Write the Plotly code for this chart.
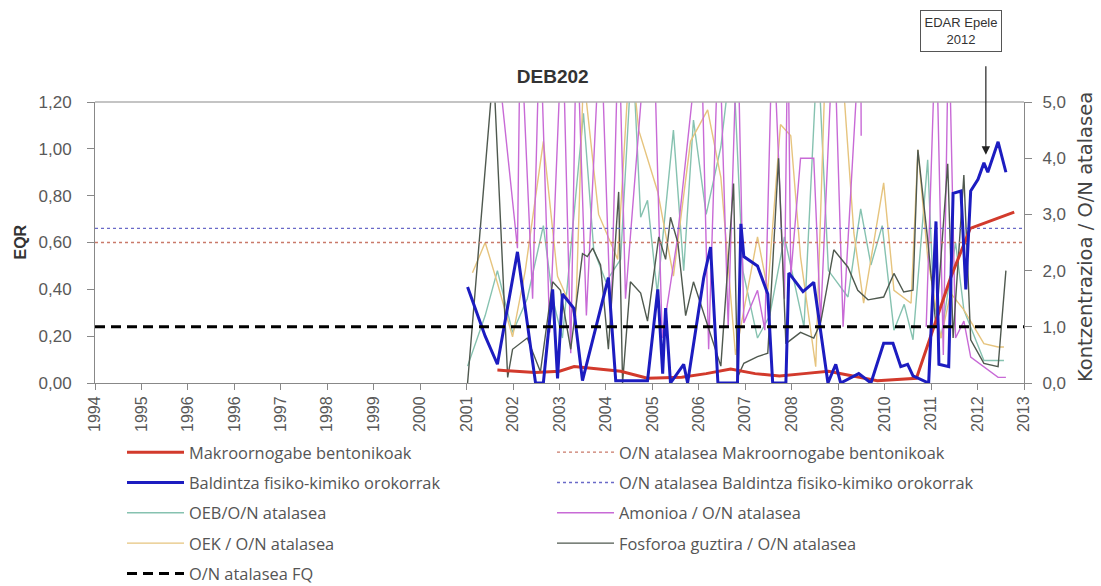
import numpy as np
import plotly.graph_objects as go

# ---- axis labels -------------------------------------------------------
x_tick_labels = ["1994", "1995", "1996", "1996", "1997", "1998", "1999", "2000",
                 "2001", "2002", "2003", "2004", "2005", "2006", "2007", "2008",
                 "2009", "2010", "2011", "2012", "2013"]

# ---- EQR series (left axis) --------------------------------------------
makro_years = [2002.23, 2003.0, 2003.5, 2003.8, 2004.3, 2004.75, 2005.3, 2006.0,
               2006.5, 2007.0, 2007.5, 2008.0, 2008.5, 2009.0, 2009.5, 2010.0,
               2010.8, 2011.5, 2011.9, 2012.8]
makro_eqr = [0.055, 0.045, 0.05, 0.07, 0.06, 0.05, 0.02, 0.025,
             0.04, 0.06, 0.04, 0.03, 0.04, 0.05, 0.03, 0.01,
             0.02, 0.45, 0.66, 0.73]

fq_years = [2001.62, 2001.98, 2002.23, 2002.64, 2003.01, 2003.17, 2003.36, 2003.46,
            2003.56, 2003.79, 2003.97, 2004.34, 2004.50, 2004.65, 2005.30, 2005.51,
            2005.61, 2005.67, 2005.77, 2006.04, 2006.12, 2006.45, 2006.59, 2006.74,
            2007.14, 2007.21, 2007.27, 2007.55, 2007.76, 2007.86, 2008.13, 2008.19,
            2008.48, 2008.70, 2008.99, 2009.15, 2009.25, 2009.62, 2009.87, 2010.13,
            2010.32, 2010.48, 2010.62, 2010.73, 2011.05, 2011.20, 2011.26, 2011.46,
            2011.55, 2011.71, 2011.81, 2011.91, 2012.06, 2012.18, 2012.26, 2012.47,
            2012.63]
fq_eqr = [0.41, 0.20, 0.08, 0.56, 0.00, 0.00, 0.40, 0.02,
          0.38, 0.32, 0.01, 0.32, 0.45, 0.01, 0.01, 0.40,
          0.04, 0.32, 0.00, 0.08, 0.00, 0.45, 0.58, 0.00,
          0.00, 0.68, 0.54, 0.50, 0.38, 0.00, 0.00, 0.47,
          0.39, 0.43, 0.00, 0.08, 0.00, 0.04, 0.00, 0.17,
          0.17, 0.07, 0.08, 0.03, 0.00, 0.69, 0.08, 0.07,
          0.81, 0.82, 0.40, 0.82, 0.87, 0.94, 0.90, 1.03,
          0.90]

# O/N thresholds (EQR)
threshold_years = [1994, 2013]
on_makro = 0.60
on_baldintza = 0.66
on_fq = 0.24

# ---- concentration / threshold ratios (right axis) ---------------------
oeb_years = [2001.62, 2001.98, 2002.23, 2002.54, 2002.84, 2003.17, 2003.36, 2003.56,
             2003.99, 2004.20, 2004.45, 2004.75, 2004.99, 2005.16, 2005.30, 2005.50,
             2005.83, 2006.04, 2006.24, 2006.50, 2006.80, 2007.04, 2007.25, 2007.55,
             2007.80, 2008.10, 2008.50, 2008.78, 2009.00, 2009.40, 2009.66, 2009.87,
             2010.10, 2010.34, 2010.55, 2010.73, 2011.03, 2011.15, 2011.30, 2011.60,
             2011.77, 2012.18, 2012.59]
oeb_ratio = [0.3, 1.2, 2.0, 0.9, 1.5, 2.8, 1.5, 0.8,
             4.8, 2.37, 1.8, 2.2, 6.0, 2.95, 3.25, 1.6,
             4.5, 2.0, 4.68, 3.0, 4.2, 6.0, 2.0, 0.8,
             1.2, 2.6, 1.0, 6.0, 2.0, 1.53, 3.1, 2.1,
             2.8, 0.94, 1.4, 0.77, 3.97, 1.5, 0.8, 2.5,
             1.3, 0.4, 0.4]

oek_years = [2001.72, 2001.98, 2002.23, 2002.54, 2002.80, 2003.17, 2003.46, 2003.83,
             2003.99, 2004.30, 2004.69, 2004.95, 2005.12, 2005.51, 2005.83, 2006.18,
             2006.53, 2006.80, 2007.10, 2007.55, 2007.76, 2008.02, 2008.23, 2008.43,
             2008.74, 2008.95, 2009.25, 2009.52, 2009.72, 2010.13, 2010.34, 2010.69,
             2010.83, 2011.03, 2011.30, 2011.50, 2011.77, 2012.18, 2012.47, 2012.59]
oek_ratio = [1.96, 2.5, 1.78, 0.82, 2.0, 4.3, 1.9, 1.17,
             5.5, 3.0, 2.2, 6.0, 4.5, 3.4, 1.9, 4.3,
             4.86, 3.66, 0.5, 2.6, 1.65, 4.6, 4.4, 2.24,
             0.29, 6.0, 6.0, 2.67, 1.42, 3.56, 1.65, 1.42,
             4.15, 2.24, 0.8, 1.6, 1.3, 0.7, 0.64, 0.64]

amonio_years = [2002.15, 2002.64, 2002.70, 2002.95, 2003.10, 2003.30, 2003.56, 2003.73,
                2003.85, 2004.05, 2004.34, 2004.55, 2004.71, 2004.85, 2005.30, 2005.42,
                2005.60, 2005.90, 2006.39, 2006.55, 2006.76, 2006.95, 2007.14, 2007.27,
                2007.55, 2007.70, 2007.86, 2008.10, 2008.17, 2008.23, 2008.43, 2008.70,
                2008.84, 2009.11, 2009.30, 2009.66, 2009.67, 2010.40,
                2011.00, 2011.20, 2011.35, 2011.46, 2011.60, 2011.77, 2011.91, 2012.18,
                2012.47, 2012.63]
amonio_ratio = [6.5, 2.4, 6.5, 1.5, 6.5, 0.9, 6.5, 0.53,
                6.5, 1.2, 6.5, 1.0, 6.5, 1.5, 6.5, 6.5,
                0.8, 2.5, 6.5, 0.6, 6.5, 1.0, 6.5, 1.07,
                1.65, 0.94, 6.5, 1.5, 6.5, 1.9, 4.0, 4.0,
                1.1, 6.5, 1.0, 6.5, 4.4, None,
                1.0, 6.5, 0.5, 6.5, 0.8, 1.1, 0.46, 0.28,
                0.1, 0.1]

fosforo_years = [2001.62, 2002.15, 2002.44, 2002.54, 2002.84, 2003.11, 2003.36, 2003.52,
                 2003.73, 2003.97, 2004.07, 2004.18, 2004.34, 2004.50, 2004.71, 2004.79,
                 2004.95, 2005.16, 2005.30, 2005.53, 2005.67, 2005.77, 2005.92, 2006.08,
                 2006.24, 2006.39, 2006.53, 2006.80, 2007.06, 2007.14, 2007.27, 2007.55,
                 2007.76, 2007.98, 2008.13, 2008.43, 2008.70, 2008.84, 2009.11, 2009.40,
                 2009.60, 2009.81, 2010.13, 2010.34, 2010.54, 2010.73, 2010.83, 2011.03,
                 2011.20, 2011.44, 2011.55, 2011.77, 2011.91, 2012.18, 2012.47, 2012.63]
fosforo_ratio = [0.0, 5.6, 0.1, 0.6, 0.8, 0.2, 1.8, 1.65,
                 0.6, 2.3, 2.25, 2.4, 2.1, 0.6, 3.4, 0.0,
                 1.8, 1.6, 1.1, 2.6, 2.2, 2.95, 2.5, 1.2,
                 1.8, 1.4, 1.06, 0.3, 3.55, 0.1, 0.35, 0.47,
                 0.53, 4.0, 0.7, 0.9, 0.8, 1.07, 2.37, 2.06,
                 1.65, 1.48, 1.53, 1.95, 1.62, 1.65, 4.15, 2.55,
                 1.0, 3.9, 0.8, 3.7, 0.77, 0.35, 0.29, 2.0]

SANS = "Liberation Sans, Arial, sans-serif"
LEGEND_FONT = dict(family="Open Sans, Lato, sans-serif", size=16.4, color="#555555")
AXIS_FONT = dict(family=SANS, size=17, color="#595959")

fig = go.Figure()

# thin ratio lines on the right-hand axis (y)
thin = [
    ("OEB/O/N atalasea", oeb_years, oeb_ratio, "#86c2b0", "legend", 3),
    ("OEK / O/N atalasea", oek_years, oek_ratio, "#e6c47e", "legend", 4),
    ("Amonioa / O/N atalasea", amonio_years, amonio_ratio, "#c86ad6", "legend2", 3),
    ("Fosforoa guztira / O/N atalasea", fosforo_years, fosforo_ratio, "#4f594f", "legend2", 4),
]
for name, xs, ys, col, leg, rank in thin:
    fig.add_trace(go.Scatter(x=xs, y=ys, name=name, mode="lines", yaxis="y",
                             line=dict(color=col, width=1.4), legend=leg,
                             legendrank=rank, legendgroup=name, connectgaps=False))

# threshold lines and EQR series on the left-hand axis (y2)
fig.add_trace(go.Scatter(x=threshold_years, y=[on_makro] * 2, yaxis="y2", mode="lines",
                         name="O/N atalasea Makroornogabe bentonikoak",
                         line=dict(color="#c97a6a", width=1.3, dash="dot"),
                         legend="legend2", legendrank=1, legendgroup="onm"))
fig.add_trace(go.Scatter(x=threshold_years, y=[on_baldintza] * 2, yaxis="y2", mode="lines",
                         name="O/N atalasea Baldintza fisiko-kimiko orokorrak",
                         line=dict(color="#6a6ac8", width=1.3, dash="dot"),
                         legend="legend2", legendrank=2, legendgroup="onb"))
fig.add_trace(go.Scatter(x=makro_years, y=makro_eqr, yaxis="y2", mode="lines",
                         name="Makroornogabe bentonikoak",
                         line=dict(color="#d23a2c", width=3),
                         legend="legend", legendrank=1, legendgroup="mk"))
fig.add_trace(go.Scatter(x=fq_years, y=fq_eqr, yaxis="y2", mode="lines",
                         name="Baldintza fisiko-kimiko orokorrak",
                         line=dict(color="#1c1cc0", width=3),
                         legend="legend", legendrank=2, legendgroup="bf"))
fig.add_trace(go.Scatter(x=threshold_years, y=[on_fq] * 2, yaxis="y2", mode="lines",
                         name="O/N atalasea FQ",
                         line=dict(color="#000000", width=3, dash="10px,6px"),
                         legend="legend", legendrank=5, legendgroup="fq"))

tick_positions = np.linspace(1994, 2013, len(x_tick_labels))

legend_style = dict(xref="container", yref="container", y=1 - 435 / 586,
                    xanchor="left", yanchor="top", orientation="v",
                    font=LEGEND_FONT, itemwidth=57, tracegroupgap=6,
                    bgcolor="rgba(0,0,0,0)", traceorder="grouped")

fig.update_layout(
    width=1101, height=586,
    margin=dict(l=95, r=77, t=102, b=203, autoexpand=False),
    paper_bgcolor="white", plot_bgcolor="white",
    separators=",.",
    showlegend=True,
    title=dict(text="<b>DEB202</b>", x=0.502, xanchor="center", y=1 - 76 / 586,
               yanchor="middle", font=dict(family=SANS, size=19, color="#333333")),
    xaxis=dict(range=[1994, 2013], tickmode="array", tickvals=tick_positions,
               ticktext=x_tick_labels, tickangle=-90, ticks="outside", ticklen=6,
               tickcolor="#888888", showline=True, linecolor="#888888", linewidth=1,
               showgrid=False, zeroline=False, tickfont=dict(AXIS_FONT, size=16)),
    yaxis=dict(range=[0, 5], side="right", tickvals=[0, 1, 2, 3, 4, 5], tickformat=".1f",
               ticks="outside", ticklen=7, tickcolor="#888888", showline=True,
               linecolor="#888888", showgrid=False, zeroline=False, tickfont=AXIS_FONT,
               ticklabelstandoff=7),
    yaxis2=dict(range=[0, 1.2], side="left", overlaying="y",
                tickvals=[0, 0.2, 0.4, 0.6, 0.8, 1.0, 1.2], tickformat=".2f",
                ticks="outside", ticklen=7, tickcolor="#888888", showline=True,
                linecolor="#888888", showgrid=False, zeroline=False, tickfont=AXIS_FONT,
                ticklabelstandoff=12),
    legend=dict(legend_style, x=122 / 1101),
    legend2=dict(legend_style, x=552 / 1101),
)

# axis titles
fig.add_annotation(xref="paper", yref="paper", x=(20 - 95) / 929, y=0.5,
                   xanchor="center", yanchor="middle", textangle=-90, showarrow=False,
                   text="<b>EQR</b>", font=dict(family=SANS, size=16, color="#333333"))
fig.add_annotation(xref="paper", yref="paper", x=(1085 - 95) / 929, y=(383 - 237) / 281,
                   xanchor="center", yanchor="middle", textangle=-90, showarrow=False,
                   text="Kontzentrazioa / O/N atalasea",
                   font=dict(family="DejaVu Sans, sans-serif", size=19.5, color="#444444"))

# light frame line along the top of the plot area
fig.add_shape(type="line", xref="paper", yref="paper", x0=0, x1=1, y0=1, y1=1,
              line=dict(color="#b0b0b0", width=1.5))

# plant commissioning note with its arrow
fig.add_annotation(xref="paper", yref="paper", x=(961 - 95) / 929, y=(383 - 31) / 281,
                   xanchor="center", yanchor="middle",
                   text="EDAR Epele<br>2012", showarrow=False,
                   font=dict(family=SANS, size=13, color="#333333"),
                   bordercolor="#555555", borderwidth=1, borderpad=2, bgcolor="white",
                   width=76, height=36)
fig.add_annotation(x=2012.22, y=0.975, xref="x", yref="y2", text="", showarrow=True,
                   ax=0, ay=-90, arrowhead=2, arrowsize=1.4, arrowwidth=1.2,
                   arrowcolor="#222222")

fig.write_html("out.html")
